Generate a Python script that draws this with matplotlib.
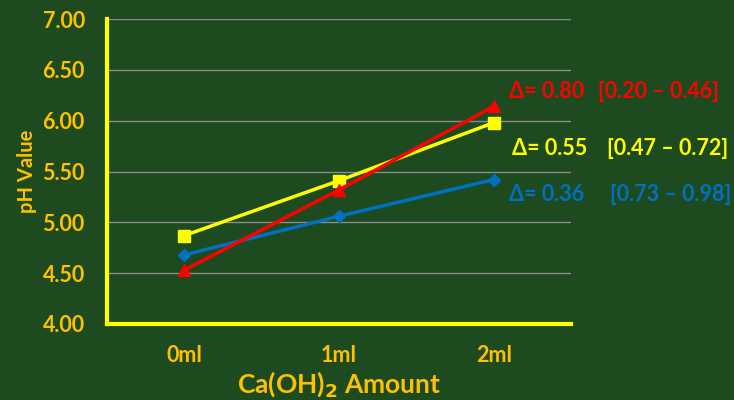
import matplotlib
matplotlib.use("Agg")
import matplotlib.pyplot as plt

categories = ["0ml", "1ml", "2ml"]
red_vals = [4.53, 5.32, 6.14]
yellow_vals = [4.87, 5.41, 5.98]
blue_vals = [4.68, 5.06, 5.42]
y_ticks = [4.0, 4.5, 5.0, 5.5, 6.0, 6.5, 7.0]

# (delta text, range text, colour, y value, x of delta, x of range) in axes fractions
notes = [
    ("Δ= 0.80", "[0.20 – 0.46]", "#FF0000", 6.29, 0.866, 1.058),
    ("Δ= 0.55", "[0.47 – 0.72]", "#FFFF00", 5.73, 0.873, 1.078),
    ("Δ= 0.36", "[0.73 – 0.98]", "#0070C0", 5.27, 0.866, 1.084),
]

BG = "#1D4B1F"
LABEL = "#FFC000"

plt.rcParams["font.family"] = ["Lato", "DejaVu Sans"]

fig = plt.figure(figsize=(7.34, 4.0), dpi=100, facecolor=BG)
ax = fig.add_axes([107 / 734, 1 - 324 / 400, 464 / 734, 305 / 400], facecolor=BG)

x = range(len(categories))
ax.plot(x, blue_vals, color="#0070C0", lw=2.5, marker="D", ms=6, zorder=3)
ax.plot(x, yellow_vals, color="#FFFF00", lw=2.5, marker="s", ms=8, zorder=4)
ax.plot(x, red_vals, color="#FF0000", lw=2.5, marker="^", ms=8, zorder=5)

ax.set_xlim(-0.5, 2.5)
ax.set_ylim(4.0, 7.0)
ax.set_yticks(y_ticks)
ax.set_yticklabels([f"{v:.2f}" for v in y_ticks])
ax.set_xticks(list(x))
ax.set_xticklabels(categories)
ax.grid(axis="y", color="#8C8C8C", lw=1)
ax.set_axisbelow(True)

for side in ("top", "right"):
    ax.spines[side].set_visible(False)
for side in ("left", "bottom"):
    ax.spines[side].set_color("#FFFF00")
    ax.spines[side].set_linewidth(3)

ax.tick_params(axis="both", length=0, colors=LABEL, labelsize=15.5)
ax.tick_params(axis="y", pad=16)
ax.tick_params(axis="x", pad=15)
for lbl in ax.get_xticklabels() + ax.get_yticklabels():
    lbl.set_fontweight("bold")

ax.set_ylabel("pH Value", color=LABEL, fontsize=14.5, fontweight="bold", labelpad=4)
ax.set_xlabel("Ca(OH)$_\\mathbf{2}$ Amount", color=LABEL, fontsize=19,
              fontweight="bold", labelpad=2)

trans = ax.get_yaxis_transform()
for delta, rng, col, yv, xd, xr in notes:
    ax.text(xd, yv, delta, color=col, fontsize=15.5, fontweight="bold",
            va="center", ha="left", transform=trans, clip_on=False)
    ax.text(xr, yv, rng, color=col, fontsize=15.5, fontweight="bold",
            va="center", ha="left", transform=trans, clip_on=False)

fig.savefig("out.png", dpi=100, facecolor=BG)
